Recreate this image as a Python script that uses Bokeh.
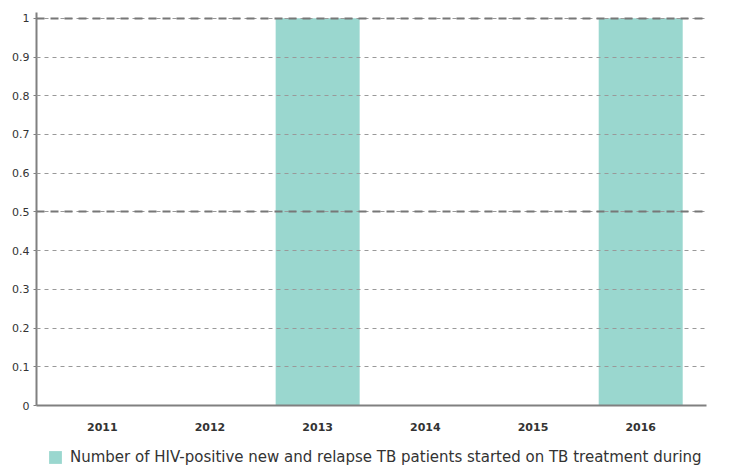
from bokeh.plotting import figure
from bokeh.layouts import column
from bokeh.models import (ColumnDataSource, Legend, LegendItem, Grid, FixedTicker,
                          CustomJSTickFormatter, Range1d, FactorRange)
from bokeh.embed import file_html
from bokeh.resources import INLINE

years = ["2011", "2012", "2013", "2014", "2015", "2016"]
values = [0, 0, 1, 0, 0, 1]
y_ticks = [0, 0.1, 0.2, 0.3, 0.4, 0.5, 0.6, 0.7, 0.8, 0.9, 1]
major_grid = [0.5, 1]
series_label = "Number of HIV-positive new and relapse TB patients started on TB treatment during"

FONT = "DejaVu Sans"
BAR = "#9ad7cf"
src = ColumnDataSource(dict(x=years, top=values))

xr = FactorRange(factors=years, range_padding=0.037, range_padding_units="percent")
p = figure(x_range=xr, y_range=Range1d(0, 1.015), width=734, height=441,
           output_backend="svg", toolbar_location=None,
           min_border_left=36, min_border_right=28, min_border_top=12, min_border_bottom=36)
p.outline_line_color = None
p.background_fill_color = "white"

r = p.vbar(x="x", top="top", width=0.78, source=src, fill_color=BAR, line_color=None)

# y axis
p.yaxis.ticker = FixedTicker(ticks=y_ticks)
p.yaxis.formatter = CustomJSTickFormatter(code="return String(Math.round(tick*10)/10)")
p.yaxis.axis_line_color = "#808080"
p.yaxis.axis_line_width = 2
p.yaxis.major_tick_line_color = "#808080"
p.yaxis.major_tick_out = 3
p.yaxis.major_tick_in = 0
p.yaxis.minor_tick_line_color = None
p.yaxis.major_label_text_font = FONT
p.yaxis.major_label_text_font_size = "11px"
p.yaxis.major_label_text_color = "#333333"
p.yaxis.major_label_standoff = 4

# x axis
p.xaxis.axis_line_color = "#808080"
p.xaxis.axis_line_width = 2
p.xaxis.major_tick_line_color = None
p.xaxis.major_tick_out = 0
p.xaxis.major_label_standoff = 17
p.xaxis.major_label_text_font = FONT
p.xaxis.major_label_text_font_size = "11px"
p.xaxis.major_label_text_font_style = "bold"
p.xaxis.major_label_text_color = "#333333"

# grids drawn over bars
p.xgrid.grid_line_color = None
p.ygrid.ticker = FixedTicker(ticks=y_ticks)
p.ygrid.grid_line_color = "#999999"
p.ygrid.grid_line_width = 1
p.ygrid.grid_line_dash = "4 4"
p.ygrid.level = "overlay"
g2 = Grid(dimension=1, ticker=FixedTicker(ticks=major_grid), grid_line_color="#777777",
          grid_line_width=2, grid_line_dash="8 6", level="overlay")
p.add_layout(g2)

# legend strip below the chart
lg = figure(x_range=FactorRange(factors=years), y_range=Range1d(10, 11), width=734, height=25,
            output_backend="svg", toolbar_location=None,
            x_axis_location=None, y_axis_location=None,
            min_border_left=0, min_border_right=0, min_border_top=0, min_border_bottom=0)
lg.outline_line_color = None
lg.grid.grid_line_color = None
r2 = lg.vbar(x="x", top="top", width=0.78, source=src, fill_color=BAR, line_color=None)

legend = Legend(items=[LegendItem(label=series_label, renderers=[r2])],
                location=(11, 0), orientation="horizontal",
                label_text_font=FONT, label_text_font_size="15px", label_text_color="#333333",
                glyph_width=16, glyph_height=16, label_standoff=7, label_height=16,
                padding=0, margin=0, spacing=0, border_line_color=None,
                background_fill_alpha=0)
lg.add_layout(legend, "center")

layout = column(p, lg, spacing=0)
open("out.html", "w").write(file_html(layout, INLINE))
